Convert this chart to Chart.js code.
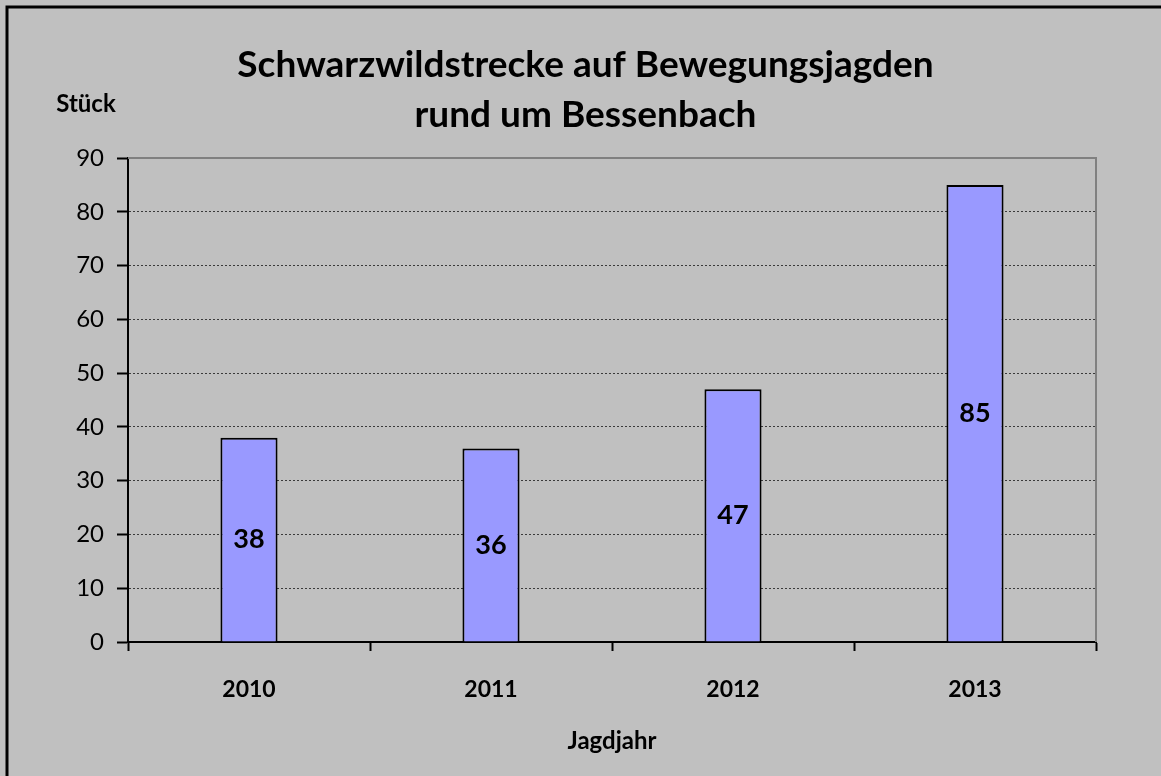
<!DOCTYPE html>
<html>
<head>
<meta charset="utf-8">
<script src="https://cdn.jsdelivr.net/npm/chart.js@4/dist/chart.umd.min.js"></script>
<style>
    html, body { margin: 0; padding: 0; background: #c0c0c0; }
    #wrap { width: 1161px; height: 776px; }
</style>
</head>
<body>
<div id="wrap"><canvas id="chart"></canvas></div>
<script>
const categories = ['2010', '2011', '2012', '2013'];
const strecke = [38, 36, 47, 85];
const titleLines = ['Schwarzwildstrecke auf Bewegungsjagden', 'rund um Bessenbach'];
const yTitle = 'Stück';
const xTitle = 'Jagdjahr';
const yMin = 0;
const yMax = 90;
const yStep = 10;

const FONT = 'Lato';

// Hintergrund, Rahmen und Plotbereich-Rand
const framePlugin = {
    id: 'frame',
    beforeDraw(chart) {
        const ctx = chart.ctx;
        ctx.save();
        ctx.fillStyle = '#c0c0c0';
        ctx.fillRect(0, 0, chart.width, chart.height);
        ctx.strokeStyle = '#000';
        ctx.lineWidth = 3;
        ctx.strokeRect(7, 7, chart.width + 20, chart.height + 20);
        ctx.restore();
    },
    beforeDatasetsDraw(chart) {
        const { ctx, chartArea } = chart;
        ctx.save();
        ctx.strokeStyle = '#808080';
        ctx.lineWidth = 2;
        ctx.beginPath();
        ctx.moveTo(chartArea.left, chartArea.top);
        ctx.lineTo(chartArea.right, chartArea.top);
        ctx.lineTo(chartArea.right, chartArea.bottom);
        ctx.stroke();
        ctx.restore();
    },
    afterDraw(chart) {
        const ctx = chart.ctx;
        ctx.save();
        ctx.fillStyle = '#000';
        ctx.font = 'bold 24px ' + FONT;
        ctx.textAlign = 'center';
        ctx.textBaseline = 'middle';
        ctx.fillText(yTitle, 86, 104);
        ctx.restore();
    }
};

// Werte mittig in die Balken schreiben
const valueLabels = {
    id: 'valueLabels',
    afterDatasetsDraw(chart) {
        const ctx = chart.ctx;
        const meta = chart.getDatasetMeta(0);
        ctx.save();
        ctx.fillStyle = '#000';
        ctx.font = 'bold 27px ' + FONT;
        ctx.textAlign = 'center';
        ctx.textBaseline = 'middle';
        meta.data.forEach((bar, i) => {
            ctx.fillText(String(strecke[i]), bar.x, (bar.y + bar.base) / 2);
        });
        ctx.restore();
    }
};

new Chart(document.getElementById('chart'), {
    type: 'bar',
    data: {
        labels: categories,
        datasets: [{
            data: strecke,
            backgroundColor: '#9999ff',
            borderColor: '#000',
            borderWidth: 2,
            categoryPercentage: 1,
            barPercentage: 0.236,
        }],
    },
    options: {
        responsive: true,
        maintainAspectRatio: false,
        animation: false,
        events: [],
        layout: { padding: { top: 40, left: 10, right: 0, bottom: 14 } },
        plugins: {
            legend: { display: false },
            tooltip: { enabled: false },
            title: {
                display: true,
                text: titleLines,
                color: '#000',
                font: { family: FONT, size: 37, weight: 'bold', lineHeight: 50 / 37 },
                padding: { top: 0, bottom: 18 },
            },
        },
        scales: {
            x: {
                offset: true,
                grid: {
                    offset: true,
                    drawOnChartArea: false,
                    tickLength: 9,
                    tickWidth: 2,
                    tickColor: '#000',
                },
                border: { color: '#000', width: 2 },
                ticks: {
                    color: '#000',
                    padding: 25,
                    font: { family: FONT, size: 23, weight: 'bold' },
                },
                title: {
                    display: true,
                    text: xTitle,
                    color: '#000',
                    font: { family: FONT, size: 24, weight: 'bold' },
                    padding: { top: 0, bottom: 6 },
                },
                afterFit(scale) { scale.height = 120; },
            },
            y: {
                min: yMin,
                max: yMax,
                grid: {
                    color: '#3a3a3a',
                    lineWidth: 1,
                    tickLength: 11,
                    tickWidth: 2,
                    tickColor: '#000',
                },
                border: { color: '#000', width: 2, dash: [2, 2] },
                ticks: {
                    stepSize: yStep,
                    color: '#000',
                    padding: 13,
                    font: { family: FONT, size: 24 },
                },
                afterFit(scale) { scale.width = 118; },
            },
            // Platzhalter rechts, damit der Titel über der ganzen Fläche zentriert bleibt
            yRight: {
                position: 'right',
                display: true,
                grid: { display: false },
                border: { display: false },
                ticks: { display: false },
                afterFit(scale) { scale.width = 65; },
            },
        },
    },
    plugins: [framePlugin, valueLabels],
});
</script>
</body>
</html>
